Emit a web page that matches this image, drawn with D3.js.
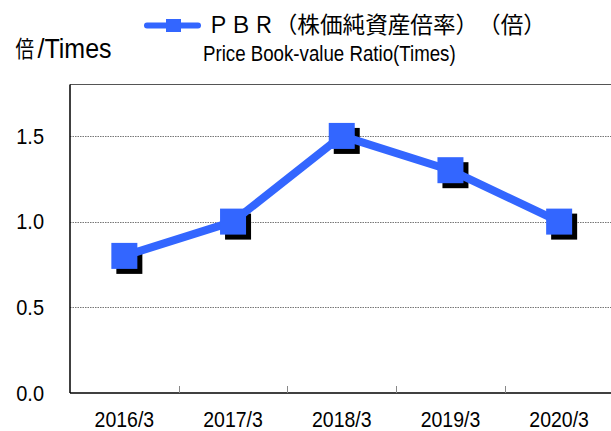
<!DOCTYPE html>
<html><head><meta charset="utf-8">
<script src="https://cdn.jsdelivr.net/npm/d3@7"></script>
<style>html,body{margin:0;padding:0;background:#fff;overflow:hidden}svg{display:block}
text.cjk{text-spacing-trim:space-all;font-kerning:none;font-feature-settings:"palt" 0,"halt" 0,"chws" 0}</style>
</head><body>
<script>
const categories = ["2016/3","2017/3","2018/3","2019/3","2020/3"];
const pbrValues = [0.8, 1.0, 1.5, 1.3, 1.0];
const yTicks = [0, 0.5, 1.0, 1.5];
const yTickLabels = ["0.0","0.5","1.0","1.5"];
const legendJa = "ＰＢＲ（株価純資産倍率）（倍）";
const legendEn = "Price Book-value Ratio(Times)";
const unitJa = "倍";
const unitEn = "/Times";

const W = 611, H = 431;
const svg = d3.select("body").append("svg").attr("width", W).attr("height", H);
const L = 70, R = 613.5, T = 84.5, B = 393;
const x = d3.scaleBand().domain(categories).range([L, R]).padding(0);
const y = d3.scaleLinear().domain([0, 1.8]).range([B, T]);
const blue = "#3366ff";
const latin = "'Liberation Sans', Arial, sans-serif";
const cjk = "'Noto Sans CJK JP', 'Liberation Sans', sans-serif";

function txt(str, px, py, fs, sy, anchor, family) {
  return svg.append("text")
    .attr("transform", `translate(${px},${py}) scale(1,${sy})`)
    .attr("font-size", fs).attr("font-family", family || latin)
    .attr("text-anchor", anchor || "start").attr("fill", "#000")
    .text(str);
}

// top border
svg.append("line").attr("x1", L).attr("x2", W).attr("y1", T).attr("y2", T)
  .attr("stroke", "#555").attr("stroke-width", 1);

// gridlines
svg.append("g").selectAll("line").data(yTicks.filter(d => d > 0)).join("line")
  .attr("x1", L).attr("x2", W).attr("y1", d => Math.round(y(d)) + 0.5).attr("y2", d => Math.round(y(d)) + 0.5)
  .attr("stroke", "#777").attr("stroke-width", 1).attr("stroke-dasharray", "1.5,1");

// x axis
const xAxis = d3.axisBottom(x).tickSize(0).tickFormat("");
svg.append("g").attr("transform", `translate(0,${B})`).call(xAxis).call(g => g.select(".domain").remove());
svg.append("line").attr("x1", L).attr("x2", W).attr("y1", B).attr("y2", B).attr("stroke", "#000").attr("stroke-width", 1.5);
// category separators
svg.append("g").selectAll("line").data(categories.slice(1)).join("line")
  .attr("x1", d => Math.round(x(d)) + 0.5).attr("x2", d => Math.round(x(d)) + 0.5)
  .attr("y1", B - 7).attr("y2", B).attr("stroke", "#888").attr("stroke-width", 1);
// y axis line
svg.append("line").attr("x1", L).attr("x2", L).attr("y1", T).attr("y2", B).attr("stroke", "#000").attr("stroke-width", 1.5);

// y labels
yTicks.forEach((v, i) => txt(yTickLabels[i], 44, y(v) + 7.8, 20, 1.12, "end"));
// x labels
categories.forEach(c => txt(c, x(c) + x.bandwidth() / 2, 426.5, 19.5, 1.15, "middle"));

// line
const line = d3.line().x((d, i) => x(categories[i]) + x.bandwidth() / 2).y(d => y(d));
const S = 26;
svg.append("g").selectAll("rect").data(pbrValues).join("rect")
  .attr("x", (d, i) => x(categories[i]) + x.bandwidth() / 2 - S / 2 + 5)
  .attr("y", d => y(d) - S / 2 + 5).attr("width", S).attr("height", S).attr("fill", "#000");
svg.append("path").datum(pbrValues).attr("d", line).attr("fill", "none")
  .attr("stroke", blue).attr("stroke-width", 8).attr("stroke-linejoin", "round");
svg.append("g").selectAll("rect.m").data(pbrValues).join("rect").attr("class", "m")
  .attr("x", (d, i) => x(categories[i]) + x.bandwidth() / 2 - S / 2)
  .attr("y", d => y(d) - S / 2).attr("width", S).attr("height", S).attr("fill", blue);

// legend
svg.append("line").attr("x1", 147).attr("x2", 198).attr("y1", 25.5).attr("y2", 25.5)
  .attr("stroke", blue).attr("stroke-width", 6).attr("stroke-linecap", "round");
svg.append("rect").attr("x", 166).attr("y", 19).attr("width", 15).attr("height", 13).attr("fill", blue);
txt(legendJa, 207, 33, 22.6, 1.0, "start", cjk).attr("class", "cjk");
txt(legendEn, 203, 60.5, 18.7, 1.18, "start");

// unit label
txt(unitJa, 15.5, 56.5, 18.5, 1.2, "start", cjk);
txt(unitEn, 37.5, 58, 25, 1.12, "start");
</script>
</body></html>
